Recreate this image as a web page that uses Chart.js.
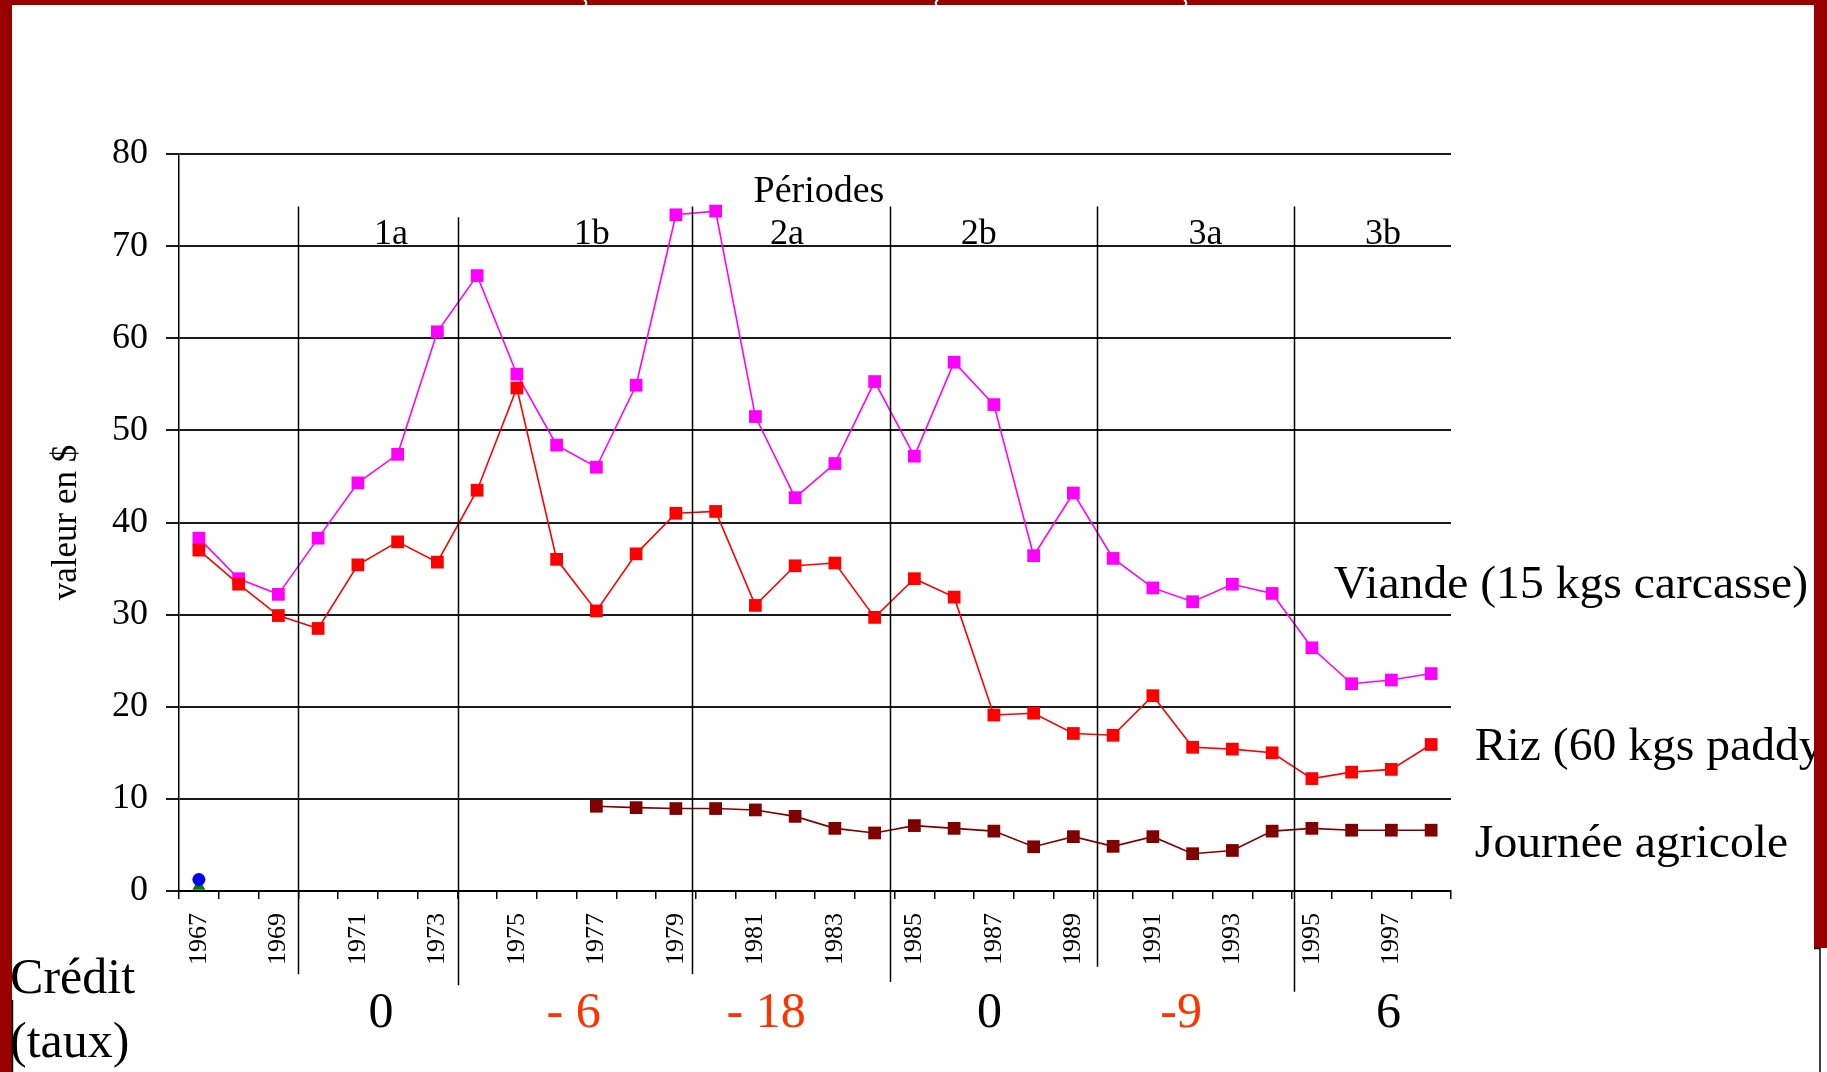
<!DOCTYPE html>
<html>
<head>
<meta charset="utf-8">
<script src="https://cdn.jsdelivr.net/npm/chart.js@4.4.0/dist/chart.umd.min.js"></script>
<style>
html,body{margin:0;padding:0;background:#fff;overflow:hidden}
canvas{display:block}
</style>
</head>
<body>
<canvas id="c" width="1827" height="1072"></canvas>
<script>
// ---------- data ----------
const years = ['1967','1968','1969','1970','1971','1972','1973','1974','1975','1976',
  '1977','1978','1979','1980','1981','1982','1983','1984','1985','1986',
  '1987','1988','1989','1990','1991','1992','1993','1994','1995','1996','1997','1998'];

const viande = [38.3, 33.9, 32.2, 38.3, 44.3, 47.4, 60.7, 66.8, 56.1, 48.4,
  46.0, 54.9, 73.4, 73.8, 51.5, 42.7, 46.4, 55.3, 47.2, 57.4,
  52.8, 36.4, 43.2, 36.1, 32.9, 31.4, 33.3, 32.3, 26.4, 22.5, 22.9, 23.6];

const riz = [37.0, 33.3, 29.9, 28.5, 35.4, 37.9, 35.7, 43.5, 54.6, 36.0,
  30.4, 36.6, 41.0, 41.2, 31.0, 35.3, 35.6, 29.7, 33.9, 31.9,
  19.1, 19.3, 17.1, 16.9, 21.2, 15.6, 15.4, 15.0, 12.2, 12.9, 13.2, 15.9];

const journee = [null, null, null, null, null, null, null, null, null, null,
  9.2, 9.05, 8.95, 8.95, 8.8, 8.1, 6.8, 6.3, 7.1, 6.8,
  6.5, 4.8, 5.9, 4.85, 5.9, 4.05, 4.4, 6.5, 6.8, 6.6, 6.6, 6.6];

const blueSeries = [1.25, null, null, null, null, null, null, null, null, null,
  null, null, null, null, null, null, null, null, null, null,
  null, null, null, null, null, null, null, null, null, null, null, null];

const greenSeries = [0.55, null, null, null, null, null, null, null, null, null,
  null, null, null, null, null, null, null, null, null, null,
  null, null, null, null, null, null, null, null, null, null, null, null];

const seriesNames = ['Viande (15 kgs carcasse)', 'Riz (60 kgs paddy)', 'Journée agricole'];
const periodNames = ['1a', '1b', '2a', '2b', '3a', '3b'];
const creditRates = ['0', '- 6', '- 18', '0', '-9', '6'];
const yAxisTitle = 'valeur en $';
const periodsTitle = 'Périodes';
const creditTitle = ['Crédit', '(taux)'];

// ---------- layout of annotations (in axis units) ----------
const serif = "'Liberation Serif','Times New Roman',serif";
const notes = {
  edges:      [2.484, 6.511, 12.396, 17.379, 22.589, 27.538],
  edgeTop:    [74.3, 73.13, 74.3, 74.3, 74.3, 74.3],
  edgeBottom: [-9.04, -10.24, -9.04, -9.88, -8.22, -10.93],
  periodX:    [4.833, 9.882, 14.793, 19.618, 25.322, 29.79],
  periodY: 70.25,
  titleX: 15.6, titleY: 74.82,
  creditX:    [4.58, 9.427, 14.27, 19.89, 24.71, 29.93],
  creditColor:['#000', '#FF3300', '#FF3300', '#000', '#FF3300', '#000'],
  creditY: -14.76,
  creditTitleX: -4.75, creditTitleY: [-11.07, -18.02],
  seriesX: [28.55, 32.1, 32.1],
  seriesY: [31.77, 14.22, 3.66]
};

const overlay = {
  id: 'overlay',
  afterDraw(chart) {
    const {ctx} = chart;
    const x = chart.scales.x, y = chart.scales.y;
    const W = chart.width, H = chart.height;
    ctx.save();
    // period separators
    ctx.strokeStyle = '#000';
    ctx.lineWidth = 1.5;
    notes.edges.forEach((e, i) => {
      const px = Math.round(x.getPixelForValue(e)) + 0.5;
      ctx.beginPath();
      ctx.moveTo(px, y.getPixelForValue(notes.edgeTop[i]));
      ctx.lineTo(px, y.getPixelForValue(notes.edgeBottom[i]));
      ctx.stroke();
    });
    ctx.fillStyle = '#000';
    ctx.textBaseline = 'alphabetic';
    ctx.textAlign = 'center';
    ctx.font = '38px ' + serif;
    ctx.fillText(periodsTitle, x.getPixelForValue(notes.titleX), y.getPixelForValue(notes.titleY));
    ctx.font = '36px ' + serif;
    periodNames.forEach((p, i) => {
      ctx.fillText(p, x.getPixelForValue(notes.periodX[i]), y.getPixelForValue(notes.periodY));
    });
    // credit rates
    ctx.font = '50px ' + serif;
    creditRates.forEach((c, i) => {
      ctx.fillStyle = notes.creditColor[i];
      ctx.fillText(c, x.getPixelForValue(notes.creditX[i]), y.getPixelForValue(notes.creditY));
    });
    // series labels (slightly wide type, as in the slide)
    ctx.fillStyle = '#000';
    ctx.textAlign = 'left';
    ctx.font = '46px ' + serif;
    seriesNames.forEach((s, i) => {
      const px = x.getPixelForValue(notes.seriesX[i]);
      const py = y.getPixelForValue(notes.seriesY[i]);
      ctx.save();
      ctx.translate(px, py);
      ctx.scale(1.035, 1);
      ctx.fillText(s, 0, 0);
      ctx.restore();
    });
    // slide frame
    const red = '#990000';
    ctx.fillStyle = red;
    ctx.fillRect(0, 0, W, 5);
    ctx.fillRect(0, 0, 12, H);
    ctx.fillRect(W - 13, 0, 13, 948);
    ctx.strokeStyle = '#000';
    ctx.lineWidth = 1.5;
    ctx.beginPath();
    ctx.moveTo(W - 13, 948.5); ctx.lineTo(W - 7, 948.5); ctx.lineTo(W - 7, H);
    ctx.stroke();
    ctx.beginPath();
    ctx.moveTo(12.5, 1000); ctx.lineTo(12.5, H);
    ctx.stroke();
    ctx.strokeStyle = '#fff';
    ctx.lineWidth = 2;
    [[586, 1], [936, -1], [1186, 1]].forEach(([ax, d]) => {
      ctx.beginPath();
      ctx.moveTo(ax - 2 * d, 0);
      ctx.quadraticCurveTo(ax + 2 * d, 2, ax - 1 * d, 6);
      ctx.stroke();
    });
    // credit title
    ctx.fillStyle = '#000';
    ctx.font = '50px ' + serif;
    creditTitle.forEach((t, i) => {
      ctx.fillText(t, x.getPixelForValue(notes.creditTitleX), y.getPixelForValue(notes.creditTitleY[i]));
    });
    ctx.restore();
  }
};

const lineStyle = (color, data, label) => ({
  label, data, borderColor: color, backgroundColor: color,
  borderWidth: 1.6, pointStyle: 'rect', pointRadius: 9, pointBorderWidth: 0,
  pointBackgroundColor: color, tension: 0, spanGaps: false
});

new Chart(document.getElementById('c'), {
  type: 'line',
  data: {
    labels: years,
    datasets: [
      {label: 'b', data: blueSeries, showLine: false, pointStyle: 'circle', pointRadius: 6.5,
       pointBackgroundColor: '#0000FF', pointBorderWidth: 0, borderColor: '#0000FF'},
      {label: 'g', data: greenSeries, showLine: false, pointStyle: 'triangle', pointRadius: 7.5,
       pointBackgroundColor: '#008000', pointBorderWidth: 0, borderColor: '#008000'},
      lineStyle('#800000', journee, seriesNames[2]),
      lineStyle('#FF0000', riz, seriesNames[1]),
      lineStyle('#FF00FF', viande, seriesNames[0])
    ]
  },
  options: {
    responsive: false,
    animation: false,
    devicePixelRatio: 1,
    layout: {padding: {left: 0, top: 154, right: 376, bottom: 0}},
    plugins: {legend: {display: false}, tooltip: {enabled: false}},
    scales: {
      x: {
        type: 'category',
        offset: true,
        grid: {display: true, drawOnChartArea: false, offset: true, tickLength: 8, color: '#000', lineWidth: 1.5},
        border: {display: true, color: '#000', width: 2},
        ticks: {
          autoSkip: false, maxRotation: 90, minRotation: 90, padding: 14,
          color: '#000', font: {family: serif, size: 26},
          callback: (v, i) => (i % 2 === 0 ? years[i] : '')
        },
        afterFit(s) { s.height = 181; }
      },
      y: {
        min: 0, max: 80,
        ticks: {stepSize: 10, padding: 18, color: '#000', font: {family: serif, size: 36}},
        grid: {color: '#1a1a1a', lineWidth: 2, tickLength: 13},
        border: {display: true, color: '#000', width: 1.5},
        title: {display: true, text: yAxisTitle, color: '#000', font: {family: serif, size: 35},
                padding: {top: 46, bottom: 0}},
        afterFit(s) { s.width = 179; }
      }
    }
  },
  plugins: [overlay]
});
</script>
</body>
</html>
